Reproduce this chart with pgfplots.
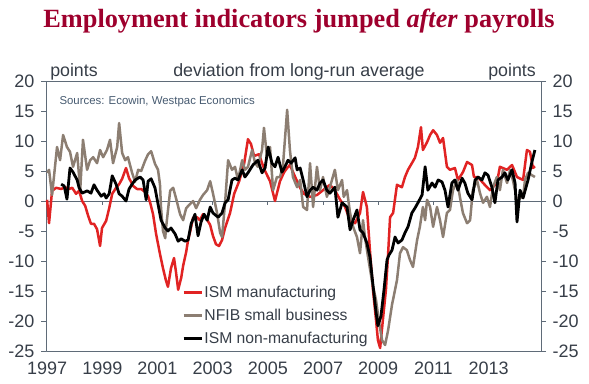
\documentclass[border=0pt]{standalone}
\usepackage{pgfplots}
\pgfplotsset{compat=1.18}
\usepackage{fontspec}
\setmainfont{Liberation Sans}
\newfontfamily\titlefont{Liberation Serif}
\definecolor{axiscol}{RGB}{95,107,120}
\definecolor{txtcol}{RGB}{55,62,72}
\definecolor{srccol}{RGB}{70,90,112}
\definecolor{titlecol}{RGB}{158,0,45}
\definecolor{ismred}{RGB}{225,35,35}
\definecolor{nfibgrey}{RGB}{140,126,114}
\begin{document}
\begin{tikzpicture}[x=1pt,y=1pt]
\useasboundingbox (0,0) rectangle (589,383);
\begin{axis}[
  at={(46pt,32pt)}, anchor=south west,
  scale only axis, width=495pt, height=270pt,
  xmin=1996.96, xmax=2014.9, ymin=-25, ymax=20,
  axis line style={axiscol, line width=0.8pt},
  ytick={-25,-20,...,20}, ytick pos=left,
  xtick={1997,1999,2001,2003,2005,2007,2009,2011,2013},
  xticklabels={1997,1999,2001,2003,2005,2007,2009,2011,2013},
  xtick pos=bottom, x tick style={draw=none},
  y tick style={axiscol, line width=0.8pt},
  tick align=outside, major tick length=5pt,
  tick label style={font=\fontsize{18}{20}\selectfont, text=txtcol},
  /pgf/number format/assume math mode=true,
  xticklabel style={yshift=-2pt},
  yticklabel style={xshift=-3pt},
  legend style={at={(0.2747,0.246)}, anchor=north west, draw=none, fill=none,
    font=\fontsize{15.7}{18}\selectfont, text=txtcol, row sep=7pt,
    inner sep=0pt, nodes={inner sep=1.5pt}},
  legend cell align=left,
  legend image code/.code={\draw[#1] (0pt,0pt) -- (18pt,0pt);},
  line join=round,
]
\draw[axiscol, line width=0.8pt] (axis cs:1996.96,0) -- (axis cs:2014.9,0);
\pgfplotsinvokeforeach{1999,2001,2003,2005,2007,2009,2011,2013}{
  \draw[axiscol, line width=0.8pt] (axis cs:#1,0) -- ([yshift=-4pt]axis cs:#1,0);
}
\addplot[ismred, line width=2.5pt] coordinates {
(1997.00,0.2)(1997.07,-3.7)(1997.18,1.7)(1997.33,2.2)(1997.51,2.0)(1997.65,2.3)(1997.80,2.0)(1997.91,2.2)
(1998.05,1.2)(1998.16,1.7)(1998.27,0)(1998.38,-0.8)(1998.49,-2.5)(1998.59,-3.8)(1998.70,-3.8)(1998.81,-4.7)
(1998.92,-7.5)(1998.99,-4.5)(1999.14,-3.3)(1999.25,-1.2)(1999.36,1.2)(1999.50,2.2)(1999.61,2.8)(1999.72,3.7)
(1999.86,5.5)(1999.97,3.8)(2000.12,2.5)(2000.26,2.0)(2000.41,2.0)(2000.55,1.5)(2000.66,0.8)(2000.73,-0.2)
(2000.84,-2.2)(2000.95,-5.5)(2001.09,-8.8)(2001.20,-11.2)(2001.31,-13.3)(2001.38,-14.3)(2001.49,-11.2)(2001.60,-9.5)
(2001.67,-11.8)(2001.75,-14.8)(2001.86,-12.8)(2001.93,-10.8)(2002.04,-8.5)(2002.11,-6.5)(2002.18,-5.2)(2002.29,-2.8)
(2002.43,-2.7)(2002.54,-3.2)(2002.65,-2.2)(2002.76,-2.8)(2002.91,-4.0)(2003.01,-5.8)(2003.12,-7.2)(2003.23,-7.5)
(2003.34,-6.5)(2003.45,-4.5)(2003.63,-2.0)(2003.78,1.2)(2003.96,3.3)(2004.14,6.2)(2004.28,10.3)(2004.39,9.5)
(2004.50,7.5)(2004.68,7.8)(2004.79,6.3)(2004.90,5.0)(2005.08,3.3)(2005.26,0)(2005.44,3.3)(2005.59,4.8)
(2005.70,5.5)(2005.80,6.0)(2005.99,4.0)(2006.17,2.2)(2006.31,1.2)(2006.53,0.7)(2006.78,1.0)(2007.00,1.8)
(2007.25,2.7)(2007.43,1.8)(2007.62,0.2)(2007.80,-1.0)(2007.98,-3.2)(2008.16,-3.7)(2008.34,-2.0)(2008.45,1.5)
(2008.59,-1.0)(2008.70,-8.2)(2008.81,-14.8)(2008.92,-19.8)(2008.99,-23.2)(2009.07,-24.5)(2009.17,-19.8)(2009.28,-14.8)
(2009.36,-8.7)(2009.43,-2.7)(2009.54,-2.0)(2009.68,2.7)(2009.86,2.3)(2009.97,4.0)(2010.08,5.2)(2010.22,6.3)
(2010.33,7.2)(2010.44,9.0)(2010.55,12.3)(2010.62,8.5)(2010.77,9.8)(2010.88,11.0)(2010.99,11.8)(2011.13,11.0)
(2011.24,9.7)(2011.35,10.5)(2011.49,5.7)(2011.60,5.2)(2011.78,5.5)(2011.89,3.5)(2012.07,4.8)(2012.22,6.5)
(2012.40,6.0)(2012.47,4.0)(2012.62,4.0)(2012.80,3.0)(2013.05,1.8)(2013.30,3.0)(2013.41,5.7)(2013.67,5.2)
(2013.85,6.0)(2014.03,4.0)(2014.25,3.5)(2014.39,8.5)(2014.50,8.2)(2014.61,5.5)(2014.68,5.8)
};
\addlegendentry{ISM manufacturing}
\addplot[nfibgrey, line width=2.5pt] coordinates {
(1997.00,4.7)(1997.07,5.2)(1997.18,1.0)(1997.36,9.0)(1997.47,6.8)(1997.58,11.0)(1997.72,9.0)(1997.83,8.2)
(1997.94,5.7)(1998.09,8.0)(1998.20,1.8)(1998.30,10.2)(1998.45,5.2)(1998.56,6.8)(1998.67,7.3)(1998.81,6.3)
(1998.92,8.5)(1999.03,7.3)(1999.17,8.5)(1999.28,10.2)(1999.39,6.3)(1999.54,9.0)(1999.61,13.0)(1999.72,8.0)
(1999.83,6.8)(1999.93,7.3)(2000.08,4.7)(2000.19,3.2)(2000.30,5.2)(2000.41,5.0)(2000.55,6.7)(2000.66,7.8)
(2000.77,8.3)(2000.91,6.2)(2001.02,5.2)(2001.09,2.8)(2001.13,-1.2)(2001.20,-5.0)(2001.28,-6.2)(2001.31,-4.5)
(2001.46,1.7)(2001.57,2.2)(2001.67,0.5)(2001.82,-2.2)(2001.93,-3.2)(2002.04,-1.2)(2002.18,-0.5)(2002.29,0)
(2002.40,-1.2)(2002.54,0.2)(2002.65,1.0)(2002.80,1.8)(2002.91,3.3)(2003.01,1.3)(2003.16,-2.0)(2003.27,-5.3)
(2003.34,-6.0)(2003.45,-0.3)(2003.56,6.8)(2003.70,5.2)(2003.81,5.7)(2003.92,3.5)(2004.07,6.8)(2004.17,5.2)
(2004.28,5.7)(2004.43,8.5)(2004.54,6.3)(2004.64,5.7)(2004.79,8.5)(2004.86,12.2)(2004.97,7.3)(2005.08,9.0)
(2005.19,1.8)(2005.33,4.0)(2005.44,4.0)(2005.55,6.0)(2005.70,15.2)(2005.80,8.5)(2005.91,4.0)(2006.06,2.3)
(2006.17,3.5)(2006.28,-1.0)(2006.42,-1.5)(2006.53,6.3)(2006.64,-1.0)(2006.78,5.7)(2006.89,1.8)(2007.00,4.0)
(2007.14,0.7)(2007.25,2.3)(2007.43,5.2)(2007.54,1.8)(2007.69,3.5)(2007.75,0.7)(2007.87,1.8)(2007.98,-2.0)
(2008.09,-4.3)(2008.23,-6.0)(2008.34,-8.7)(2008.45,-3.2)(2008.52,-6.0)(2008.63,-9.3)(2008.78,-13.5)(2008.92,-16.5)
(2009.03,-20.2)(2009.14,-23.2)(2009.25,-24.0)(2009.36,-21.5)(2009.50,-17.3)(2009.61,-14.8)(2009.68,-13.2)(2009.79,-8.7)
(2009.90,-7.7)(2010.04,-8.2)(2010.15,-9.8)(2010.26,-11.0)(2010.41,-6.5)(2010.51,-4.3)(2010.62,-1.0)(2010.70,-3.2)
(2010.77,0.2)(2010.88,-1.0)(2010.99,-4.3)(2011.13,-1.0)(2011.24,-3.2)(2011.35,-6.0)(2011.49,-2.0)(2011.60,-1.5)
(2011.71,1.8)(2011.86,3.5)(2011.96,0.7)(2012.07,-2.0)(2012.22,-3.7)(2012.33,-3.2)(2012.43,1.8)(2012.58,3.5)
(2012.69,1.3)(2012.80,-0.3)(2012.94,0.7)(2013.05,-1.0)(2013.16,2.3)(2013.30,4.0)(2013.41,1.8)(2013.52,5.2)
(2013.67,3.0)(2013.78,5.2)(2013.88,3.5)(2014.03,0.2)(2014.14,0.5)(2014.25,0.7)(2014.32,3.5)(2014.43,4.7)
(2014.57,4.3)(2014.68,4.0)
};
\addlegendentry{NFIB small business}
\addplot[black, line width=2.8pt] coordinates {
(1997.51,2.8)(1997.62,2.5)(1997.72,0.3)(1997.83,5.5)(1997.94,4.8)(1998.09,3.5)(1998.16,2.2)(1998.27,1.3)
(1998.45,1.7)(1998.59,1.3)(1998.70,2.7)(1998.81,1.8)(1998.96,0.8)(1999.07,1.2)(1999.14,0.5)(1999.25,1.2)
(1999.36,4.2)(1999.50,2.8)(1999.61,1.2)(1999.72,0.8)(1999.86,0)(1999.97,2.0)(2000.08,2.8)(2000.19,3.5)
(2000.37,4.0)(2000.48,3.5)(2000.59,0.2)(2000.66,3.3)(2000.77,3.7)(2000.91,2.2)(2001.02,-0.5)(2001.13,-3.2)
(2001.28,-4.5)(2001.38,-5.0)(2001.49,-4.5)(2001.64,-5.5)(2001.75,-6.7)(2001.86,-6.3)(2002.00,-6.7)(2002.11,-6.5)
(2002.22,-3.8)(2002.36,-2.2)(2002.47,-5.8)(2002.58,-3.5)(2002.69,-2.2)(2002.80,-3.2)(2002.91,-1.0)(2003.01,-2.0)
(2003.20,-2.7)(2003.34,-2.0)(2003.45,-0.3)(2003.56,0.2)(2003.70,3.5)(2003.81,3.8)(2003.92,3.5)(2004.07,5.2)
(2004.17,4.0)(2004.28,4.7)(2004.46,6.0)(2004.64,6.8)(2004.79,4.7)(2004.90,5.5)(2005.01,9.0)(2005.15,6.3)
(2005.26,5.7)(2005.37,7.3)(2005.51,4.8)(2005.62,5.7)(2005.73,6.8)(2005.84,6.3)(2005.99,7.2)(2006.06,5.2)
(2006.17,5.5)(2006.28,3.5)(2006.42,0.7)(2006.53,1.8)(2006.64,2.3)(2006.78,1.8)(2006.89,3.0)(2007.00,3.5)
(2007.14,1.8)(2007.25,1.3)(2007.43,2.3)(2007.54,-2.7)(2007.69,-0.3)(2007.87,-1.0)(2007.98,-4.8)(2008.09,-3.2)
(2008.23,-1.5)(2008.34,-4.8)(2008.45,-5.3)(2008.59,-7.0)(2008.70,-9.3)(2008.81,-14.0)(2008.92,-18.5)(2008.99,-20.8)
(2009.10,-19.2)(2009.21,-14.8)(2009.32,-9.8)(2009.39,-9.0)(2009.50,-8.2)(2009.61,-6.0)(2009.72,-7.0)(2009.86,-6.5)
(2009.97,-5.3)(2010.08,-4.3)(2010.22,-2.0)(2010.33,-1.2)(2010.44,-0.3)(2010.59,1.0)(2010.70,5.7)(2010.80,1.8)
(2010.95,3.0)(2011.06,2.3)(2011.17,3.5)(2011.31,3.2)(2011.42,1.8)(2011.53,-1.0)(2011.67,3.0)(2011.78,3.5)
(2011.89,1.8)(2012.04,3.8)(2012.14,3.0)(2012.25,1.3)(2012.40,0.2)(2012.51,3.5)(2012.62,4.0)(2012.76,3.5)
(2012.87,4.7)(2012.98,4.3)(2013.12,2.3)(2013.23,-0.3)(2013.34,3.5)(2013.49,4.0)(2013.59,4.7)(2013.70,3.5)
(2013.85,5.2)(2013.96,3.0)(2014.03,-3.5)(2014.14,1.8)(2014.25,0.5)(2014.43,3.5)(2014.57,6.5)(2014.68,8.5)
};
\addlegendentry{ISM non-manufacturing}
\end{axis}
\begin{axis}[
  at={(46pt,32pt)}, anchor=south west,
  scale only axis, width=495pt, height=270pt,
  xmin=1996.96, xmax=2014.9, ymin=-25, ymax=20,
  axis x line=none, axis y line*=right,
  axis line style={axiscol, line width=0.8pt},
  ytick={-25,-20,...,20},
  y tick style={axiscol, line width=0.8pt},
  tick align=outside, major tick length=5pt,
  tick label style={font=\fontsize{18}{20}\selectfont, text=txtcol},
  /pgf/number format/assume math mode=true,
  yticklabel style={xshift=3pt},
]
\end{axis}
\node[font=\fontsize{26.3}{29}\selectfont\titlefont\bfseries, text=titlecol] at (299,362)
  {Employment indicators jumped \textit{after} payrolls};
\node[font=\fontsize{17.8}{20}\selectfont, text=txtcol] at (74,311) {points};
\node[font=\fontsize{17.8}{20}\selectfont, text=txtcol] at (299,311) {deviation from long-run average};
\node[font=\fontsize{17.8}{20}\selectfont, text=txtcol] at (512,311) {points};
\node[font=\fontsize{11.4}{13}\selectfont, text=srccol, anchor=west] at (56,281) {Sources: Ecowin, Westpac Economics};
\end{tikzpicture}
\end{document}
